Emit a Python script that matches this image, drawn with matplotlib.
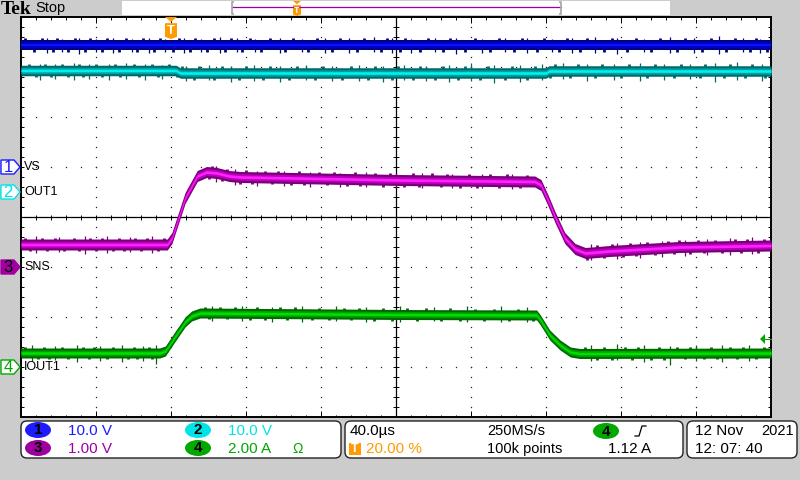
import numpy as np
import matplotlib
matplotlib.use("Agg")
import matplotlib.pyplot as plt
from matplotlib.patches import Polygon, Rectangle, FancyBboxPatch, Ellipse

plt.rcParams["font.family"] = ["Liberation Sans", "DejaVu Sans"]

# times in microseconds from the trigger, levels in divisions from screen centre
ch1_t = [-80, 320]
ch1_y = [3.44, 3.44]
ch2_t = [-80, 2.7, 5, 200, 201.6, 320]
ch2_y = [2.93, 2.93, 2.88, 2.88, 2.92, 2.92]
ch3_t = [-80, -2, 0.5, 7.5, 14, 19, 24.5, 31, 37, 122, 194, 197.3, 201, 204.8, 210, 215.5, 221, 234, 271, 320]
ch3_y = [-0.55, -0.55, -0.42, 0.38, 0.82, 0.90, 0.88, 0.82, 0.80, 0.74, 0.71, 0.64, 0.34, 0.0, -0.42, -0.64, -0.72, -0.68, -0.60, -0.57]
ch4_t = [-80, -6, -3, 2, 7.5, 11, 15.5, 122, 195, 197, 202, 207.5, 213, 218, 320]
ch4_y = [-2.72, -2.72, -2.68, -2.40, -2.10, -1.98, -1.92, -1.95, -1.96, -2.06, -2.36, -2.56, -2.70, -2.73, -2.72]

# noise spikes: time, lowest and highest tip
ch1_spike_t = [-66, -58, -49, -40, -31, -21, -12, -3, 7, 16, 26, 35, 45, 58, 70, 82, 95, 108, 118, 128, 141, 152, 166, 178, 190, 203, 214, 226, 238, 252, 266, 279, 292, 305, 314]
ch1_spike_lo = [3.28, 3.30, 3.26, 3.30, 3.28, 3.31, 3.29, 3.30, 3.28, 3.31, 3.29, 3.30, 3.31, 3.28, 3.30, 3.29, 3.28, 3.30, 3.28, 3.29, 3.30, 3.26, 3.29, 3.30, 3.28, 3.30, 3.29, 3.28, 3.26, 3.30, 3.28, 3.29, 3.27, 3.30, 3.29]
ch1_spike_hi = [3.58, 3.57, 3.58, 3.56, 3.59, 3.57, 3.58, 3.56, 3.58, 3.57, 3.60, 3.58, 3.56, 3.58, 3.57, 3.59, 3.58, 3.60, 3.58, 3.57, 3.59, 3.58, 3.57, 3.58, 3.59, 3.57, 3.58, 3.60, 3.58, 3.57, 3.61, 3.59, 3.62, 3.58, 3.57]
ch2_spike_t = [-70, -62, -52, -44, -33, -24, -14, -5, 8, 20, 32, 44, 58, 72, 86, 100, 113, 124, 136, 148, 160, 172, 186, 198, 209, 222, 236, 250, 263, 277, 290, 302, 315]
ch2_spike_lo = [2.74, 2.76, 2.74, 2.77, 2.75, 2.76, 2.74, 2.76, 2.72, 2.74, 2.70, 2.73, 2.71, 2.74, 2.72, 2.73, 2.71, 2.74, 2.72, 2.70, 2.73, 2.68, 2.71, 2.74, 2.76, 2.73, 2.75, 2.72, 2.74, 2.76, 2.71, 2.74, 2.73]
ch2_spike_hi = [3.07, 3.06, 3.08, 3.07, 3.06, 3.08, 3.07, 3.05, 3.03, 3.04, 3.02, 3.04, 3.03, 3.05, 3.02, 3.04, 3.03, 3.05, 3.03, 3.04, 3.08, 3.05, 3.04, 3.07, 3.09, 3.07, 3.06, 3.08, 3.07, 3.06, 3.08, 3.10, 3.07]
ch3_spike_t = [-72, -60, -46, -34, -22, -10, 24, 34, 46, 60, 74, 90, 104, 120, 134, 150, 166, 182, 224, 238, 250, 262, 274, 286, 298, 310]
ch3_spike_lo = [-0.72, -0.70, -0.73, -0.71, -0.70, -0.72, 0.71, 0.65, 0.63, 0.62, 0.61, 0.60, 0.61, 0.58, 0.59, 0.58, 0.58, 0.57, -0.86, -0.84, -0.82, -0.80, -0.78, -0.76, -0.75, -0.74]
ch3_spike_hi = [-0.38, -0.39, -0.37, -0.38, -0.39, -0.37, 1.02, 0.96, 0.93, 0.92, 0.91, 0.89, 0.90, 0.88, 0.89, 0.87, 0.87, 0.86, -0.54, -0.52, -0.50, -0.48, -0.45, -0.43, -0.41, -0.40]
ch4_spike_t = [-74, -62, -50, -38, -26, -15, -8, 22, 38, 54, 70, 88, 104, 122, 140, 158, 176, 190, 224, 238, 252, 266, 280, 294, 308]
ch4_spike_lo = [-2.88, -2.86, -2.89, -2.87, -2.90, -2.88, -2.94, -2.08, -2.08, -2.10, -2.09, -2.08, -2.10, -2.09, -2.08, -2.10, -2.09, -2.10, -2.88, -2.86, -2.89, -2.96, -2.87, -2.89, -2.87]
ch4_spike_hi = [-2.56, -2.58, -2.55, -2.57, -2.56, -2.58, -2.56, -1.77, -1.78, -1.79, -1.77, -1.78, -1.79, -1.78, -1.79, -1.77, -1.78, -1.79, -2.56, -2.54, -2.56, -2.57, -2.55, -2.56, -2.55]

# small teeth along the band edges, odd entries on top, even ones below
ch1_teeth = [-78, -73, -69, -63, -61, -55, -51, -46, -43, -37, -34, -28, -24, -18, -15, -9, -6, 1, 4, 10, 13, 19, 23, 29, 32, 38, 42, 48, 53, 61, 65, 73, 78, 86, 90, 99, 103, 112, 115, 122, 125, 133, 137, 145, 149, 157, 162, 170, 175, 183, 187, 195, 199, 207, 211, 218, 222, 231, 235, 243, 248, 256, 261, 270, 274, 283, 288, 296, 301, 309, 312, 318]
ch2_teeth = [-76, -72, -67, -64, -58, -55, -49, -47, -40, -37, -30, -27, -20, -17, -10, -7, -1, 3, 6, 12, 15, 23, 27, 36, 40, 49, 53, 63, 67, 77, 81, 91, 96, 105, 109, 118, 121, 129, 133, 141, 145, 153, 157, 165, 169, 178, 182, 190, 194, 202, 205, 213, 217, 226, 230, 240, 244, 254, 258, 268, 272, 282, 285, 295, 298, 306, 310, 317]
ch3_teeth = [-78, -75, -69, -66, -62, -57, -52, -49, -43, -40, -37, -31, -28, -25, -19, -16, -13, -7, -4, 20, 22, 27, 30, 37, 40, 43, 50, 54, 57, 64, 68, 71, 79, 83, 87, 94, 98, 101, 109, 113, 117, 124, 129, 132, 139, 144, 147, 154, 159, 163, 170, 175, 179, 186, 190, 222, 227, 231, 235, 241, 245, 248, 254, 258, 265, 268, 271, 277, 281, 284, 290, 294, 301, 304, 307, 313, 316]
ch4_teeth = [-78, -71, -68, -65, -58, -55, -47, -44, -41, -34, -31, -23, -20, -18, -12, -10, 18, 20, 26, 30, 34, 42, 46, 50, 58, 62, 66, 75, 79, 84, 92, 96, 100, 108, 113, 118, 126, 131, 136, 144, 149, 154, 162, 167, 172, 180, 185, 193, 221, 227, 231, 235, 242, 246, 249, 256, 260, 263, 270, 274, 277, 284, 288, 291, 298, 302, 305, 312, 316]

channel_labels = ["VS", "OUT1", "SNS", "IOUT1"]
channel_scales = ["10.0 V", "10.0 V", "1.00 V", "2.00 A"]

BLUE = "#1c1cff"
CYAN = "#00e4e8"
PURPLE = "#a000a0"
GREEN = "#00a800"
ORANGE = "#ff9a00"

traces = [
    (ch1_t, ch1_y, ch1_spike_t, ch1_spike_lo, ch1_spike_hi, ch1_teeth, ["#000088", "#0000c8", "#0018f8"], 0.105),
    (ch2_t, ch2_y, ch2_spike_t, ch2_spike_lo, ch2_spike_hi, ch2_teeth, ["#006a6a", "#00a0a2", "#00f0f0"], 0.105),
    (ch3_t, ch3_y, ch3_spike_t, ch3_spike_lo, ch3_spike_hi, ch3_teeth, ["#780078", "#b800b8", "#ff20ff"], 0.11),
    (ch4_t, ch4_y, ch4_spike_t, ch4_spike_lo, ch4_spike_hi, ch4_teeth, ["#006800", "#00a000", "#00e000"], 0.10),
]

fig = plt.figure(figsize=(8, 4.8), dpi=100, facecolor="#cccccc")

ax = fig.add_axes([21 / 800, 1 - 417 / 480, 750 / 800, 400 / 480], zorder=1)
ax.set_xlim(-80, 320)
ax.set_ylim(-4, 4)
ax.set_xticks([])
ax.set_yticks([])
for spine in ax.spines.values():
    spine.set_linewidth(1.4)
    spine.set_color("black")

# graticule
major_x = np.arange(-80, 321, 40)
major_y = np.arange(-4, 4.1, 1)
minor_x = np.arange(-80, 320.1, 8)
minor_y = np.arange(-4, 4.01, 0.2)
gx, gy = np.meshgrid(minor_x, major_y)
ax.plot(gx.ravel(), gy.ravel(), ls="", marker="s", ms=0.9, mew=0, color="#222222", zorder=1)
gx, gy = np.meshgrid(major_x, minor_y)
ax.plot(gx.ravel(), gy.ravel(), ls="", marker="s", ms=0.9, mew=0, color="#222222", zorder=1)
ax.axhline(0, color="black", lw=0.9, zorder=1.5)
ax.axvline(120, color="black", lw=0.9, zorder=1.5)
ax.vlines(minor_x, -0.05, 0.05, color="black", lw=0.7, zorder=1.5)
ax.hlines(minor_y, 118.4, 121.6, color="black", lw=0.7, zorder=1.5)
ax.vlines(minor_x, 3.95, 4, color="black", lw=0.7, zorder=1.5)
ax.vlines(major_x, 3.88, 4, color="black", lw=0.7, zorder=1.5)
ax.vlines(minor_x, -4, -3.95, color="black", lw=0.7, zorder=1.5)
ax.vlines(major_x, -4, -3.88, color="black", lw=0.7, zorder=1.5)
ax.hlines(minor_y, -80, -78.4, color="black", lw=0.7, zorder=1.5)
ax.hlines(minor_y, 318.4, 320, color="black", lw=0.7, zorder=1.5)

for t, y, sp_t, sp_lo, sp_hi, teeth, shades, half in traces:
    t = np.array(t, dtype=float)
    y = np.array(y, dtype=float)
    teeth = np.array(teeth, dtype=float)
    ax.vlines(sp_t, sp_lo, sp_hi, color=shades[0], lw=0.9, zorder=2)
    ax.vlines(teeth[::2], np.interp(teeth[::2], t, y), np.interp(teeth[::2], t, y) + half * 1.25,
              color=shades[0], lw=2, zorder=2)
    ax.vlines(teeth[1::2], np.interp(teeth[1::2], t, y) - half * 1.25, np.interp(teeth[1::2], t, y),
              color=shades[0], lw=2, zorder=2)
    ax.fill_between(t, y - half, y + half, color=shades[0], lw=0, zorder=3)
    ax.fill_between(t, y - half * 0.6, y + half * 0.6, color=shades[1], lw=0, zorder=4)
    ax.fill_between(t, y - half * 0.25, y + half * 0.25, color=shades[2], lw=0, zorder=5)

# everything around the screen, in pixels
ui = fig.add_axes([0, 0, 1, 1], zorder=2)
ui.set_xlim(0, 800)
ui.set_ylim(480, 0)
ui.axis("off")


def label(x, y, s, color="black", size=10, **kw):
    kw.setdefault("ha", "left")
    ui.text(x, y, s, color=color, fontsize=size, va="center", **kw)


def t_marker(cx, top, w, h):
    ui.add_patch(Polygon([(cx - w / 2, top + h * 0.28), (cx + w / 2, top + h * 0.28), (cx + w / 2, top + h * 0.9),
                          (cx, top + h), (cx - w / 2, top + h * 0.9)], fc=ORANGE, ec="none"))
    ui.add_patch(Polygon([(cx - w / 2, top), (cx + w / 2, top), (cx, top + h * 0.22)], fc=ORANGE, ec="none"))
    ui.text(cx, top + h * 0.62, "T", color="white", fontsize=h * 0.42, fontweight="bold", ha="center", va="center")


# top bar
label(1, 9, "Tek", size=14, fontweight="bold", family=["Liberation Serif"])
label(35, 8, "Stop", size=10.5)
ui.add_patch(Rectangle((122, 1), 548, 14, fc="white", ec="none"))
ui.plot([232, 561], [7, 7], color=PURPLE, lw=0.9)
ui.plot([233, 232, 232, 233], [2, 2, 14, 14], color="#aaaaaa", lw=1.3)
ui.plot([560, 561, 561, 560], [2, 2, 14, 14], color="#aaaaaa", lw=1.3)
t_marker(297, 1, 8, 15)
t_marker(171, 17, 12, 22)

# channel markers
markers = [(167, BLUE, "1", False), (192, CYAN, "2", False), (267, PURPLE, "3", True), (367, GREEN, "4", False)]
for (my, color, num, filled), text in zip(markers, channel_labels):
    ui.add_patch(Polygon([(1, my - 7), (14, my - 7), (20, my), (14, my + 7), (1, my + 7)],
                         fc=color if filled else "white", ec=color, lw=1))
    ui.text(8, my + 0.5, num, color="black" if filled else color, fontsize=12, ha="center", va="center")
    label(24, my, text, size=9)

# trigger level arrow
ui.add_patch(Polygon([(760, 339), (765, 334), (765, 344)], fc=GREEN, ec="none"))
ui.plot([765, 771], [339, 339], color=GREEN, lw=0.8)

# bottom panels
for x0, x1 in [(21, 341), (345, 683), (687, 797)]:
    ui.add_patch(FancyBboxPatch((x0 + 5, 426), x1 - x0 - 10, 27, boxstyle="round,pad=5,rounding_size=6",
                                fc="white", ec="#222222", lw=1))

pills = [(38, 430, BLUE, "1"), (198, 430, CYAN, "2"), (38, 448, PURPLE, "3"), (198, 448, GREEN, "4"), (606, 431, GREEN, "4")]
for px, py, color, num in pills:
    ui.add_patch(Ellipse((px, py), 26, 16, fc=color, ec="none"))
    ui.text(px, py + 0.5, num, color="black", fontsize=11, fontweight="bold", ha="center", va="center")

label(68, 431, channel_scales[0], BLUE, 11)
label(228, 431, channel_scales[1], CYAN, 11)
label(68, 449, channel_scales[2], PURPLE, 11)
label(228, 449, channel_scales[3], GREEN, 11)
label(292, 449, "Ω", GREEN, 10)

label(350, 431, "40.0µs", size=11)
ui.add_patch(Rectangle((349, 443), 12, 12, fc=ORANGE, ec="none"))
ui.text(355, 449.5, "T", color="white", fontsize=9, fontweight="bold", ha="center", va="center")
label(366, 449, "20.00 %", ORANGE, 11)
label(487, 431, "250MS/s", size=10.5)
label(487, 449, "100k points", size=10.5)
ui.plot([635, 639, 642, 646], [436, 436, 426, 426], color="black", lw=0.9)
label(608, 449, "1.12 A", size=11)
label(695, 431, "12 Nov", size=11)
label(761, 431, "2021", size=10.5)
label(695, 449, "12: 07: 40", size=11)

fig.savefig("out.png", dpi=100)
